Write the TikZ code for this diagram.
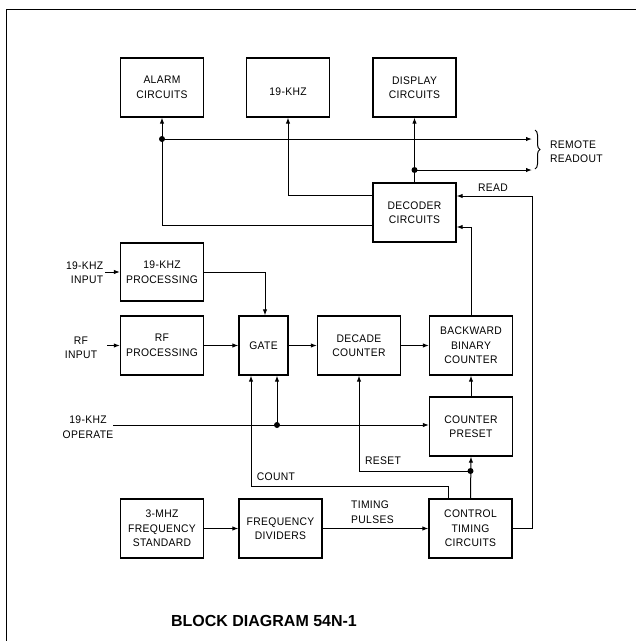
\documentclass[tikz,border=0pt]{standalone}
\usepackage{fontspec}
\setmainfont{Liberation Sans}
\newfontfamily\boxfont[FakeStretch=0.94,LetterSpace=3]{Liberation Sans}
\usetikzlibrary{arrows.meta,decorations.pathreplacing}
\begin{document}
\begin{tikzpicture}[x=1pt,y=-1pt,
  bx/.style={draw,line width=1.2pt,minimum width=83pt,minimum height=59pt,inner sep=0pt,font=\boxfont\fontsize{11}{14.5}\selectfont},
  blk/.style={bx,align=center},
  wire/.style={line width=1pt},
  arr/.style={wire,-{Latex[length=6pt,width=4.4pt]}},
  jdot/.style={circle,fill,inner sep=0pt,minimum size=6pt},
  lbl/.style={font=\boxfont\fontsize{11}{14.5}\selectfont,inner sep=0pt,align=center}]
\useasboundingbox (0,0) rectangle (636,641);
\draw[line width=0.9pt] (6,641) -- (6,9) -- (636,9);

% blocks
\node[blk] (alarm) at (162,87.5) {ALARM\\CIRCUITS};
\node[bx,text height=15pt,text depth=0pt] (khz) at (288,87.5) {19-KHZ};
\node[blk] (disp) at (414.5,87.5) {DISPLAY\\CIRCUITS};
\node[blk] (dec) at (414.5,212.5) {DECODER\\CIRCUITS};
\node[blk,minimum height=58pt] (kproc) at (162,272) {19-KHZ\\PROCESSING};
\node[blk] (rfp) at (162,345.5) {RF\\PROCESSING};
\node[blk,minimum width=49pt] (gate) at (263.5,345.5) {GATE};
\node[blk] (decade) at (359,345.5) {DECADE\\COUNTER};
\node[blk] (bbc) at (471,345.5) {BACKWARD\\BINARY\\COUNTER};
\node[blk] (preset) at (471,426.5) {COUNTER\\PRESET};
\node[blk] (mhz) at (162,528.5) {3-MHZ\\FREQUENCY\\STANDARD};
\node[blk] (fdiv) at (280.5,528.5) {FREQUENCY\\DIVIDERS};
\node[blk] (ctrl) at (470.5,528.5) {CONTROL\\TIMING\\CIRCUITS};

% coordinates
\coordinate (ja) at (162,139);
\coordinate (jd) at (414.5,170);
\coordinate (ro1) at (532,139);
\coordinate (ro2) at (532,170);
\coordinate (rr) at (532,196);
\coordinate (in1) at (105,272);
\coordinate (in2) at (107,345.5);
\coordinate (in3) at (113,425);
\coordinate (jo) at (277,425);
\coordinate (cn) at (251,486);
\coordinate (jr) at (470.5,471);

% decoder outputs
\draw[arr] (dec.north) -- (disp.south);
\draw[arr] (jd) -- (ro2);
\draw[arr] (dec.west |- 0,225) -| (alarm.south);
\draw[arr] (ja) -- (ro1);
\draw[arr] (dec.west |- 0,195) -| (khz.south);
\node[jdot] at (ja) {};
\node[jdot] at (jd) {};

% read / counter to decoder
\draw[arr] (ctrl.east) -| (rr) -- (dec.east |- rr);
\draw[arr] (bbc.north) |- (dec.east |- 0,227);

% inputs and chain
\draw[arr] (in1) -- (kproc.west);
\draw[arr] (kproc.east) -| ([xshift=1.5pt]gate.north);
\draw[arr] (in2) -- (rfp.west);
\draw[arr] (rfp.east) -- (gate.west);
\draw[arr] (gate.east) -- (decade.west);
\draw[arr] (decade.east) -- (bbc.west);
\draw[arr] (preset.north) -- (bbc.south);
\draw[arr] (in3) -- (preset.west |- in3);
\draw[arr] (jo) -- (gate.south -| jo);
\node[jdot] at (jo) {};

% count / reset
\draw[arr] (ctrl.north -| 448,0) |- (cn) -- (gate.south -| cn);
\draw[arr] (ctrl.north) -- (preset.south);
\draw[arr] (jr) -| (decade.south);
\node[jdot] at (jr) {};

% bottom chain
\draw[arr] (mhz.east) -- (fdiv.west);
\draw[arr] (fdiv.east) -- (ctrl.west);

% labels
\node[lbl,align=right,anchor=east] (l1) at (103.5,272.5) {19-KHZ\\INPUT};
\node[lbl] (l2) at (81,348) {RF\\INPUT};
\node[lbl] (l3) at (88,427) {19-KHZ\\OPERATE};
\node[lbl] (lread) at (493,188) {READ};
\node[lbl] (lcount) at (276,477) {COUNT};
\node[lbl] (lreset) at (383,461) {RESET};
\node[lbl,align=left,anchor=west] (ltp) at (351,512) {TIMING\\PULSES};
\node[lbl,align=left,anchor=west] (lrr) at (550,151.5) {REMOTE\\READOUT};
\draw[decorate,decoration={brace,amplitude=5pt},line width=1pt] (535,130) -- (535,169);

\node[font=\bfseries\fontsize{16}{18}\selectfont] (title) at (264,621) {BLOCK DIAGRAM 54N-1};
\end{tikzpicture}
\end{document}
